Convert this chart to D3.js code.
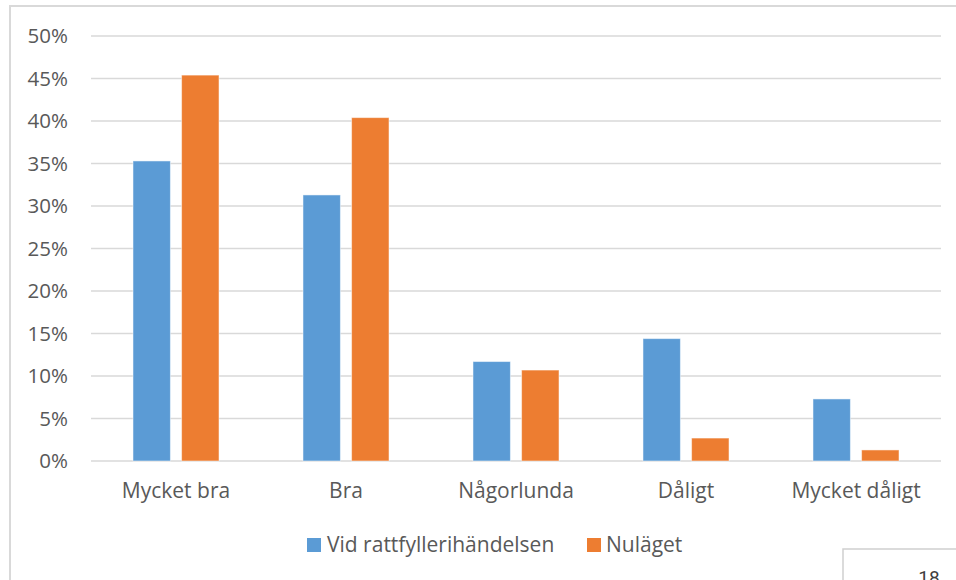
<!DOCTYPE html>
<html><head><meta charset="utf-8">
<script src="https://cdn.jsdelivr.net/npm/d3@7"></script>
<style>
html,body{margin:0;padding:0;background:#fff;}
svg{display:block;}
text{font-family:"Open Sans","Noto Sans",sans-serif;}
</style></head>
<body>
<svg id="chart" width="956" height="580"></svg>
<script>
const categories = ["Mycket bra","Bra","Någorlunda","Dåligt","Mycket dåligt"];
const seriesNames = ["Vid rattfyllerihändelsen","Nuläget"];
const seriesColors = ["#5B9BD5","#ED7D31"];
const vid = [35.3,31.3,11.7,14.4,7.3];
const nulaget = [45.4,40.4,10.7,2.7,1.3];
const yTicks = [0,5,10,15,20,25,30,35,40,45,50];
const pageNumber = "18";

(function(){
const svg = d3.select("#chart");
// chart frame
svg.append("rect").attr("x",10).attr("y",6).attr("width",1000).attr("height",700)
  .attr("fill","none").attr("stroke","#d9d9d9").attr("stroke-width",2);

const pLeft=91,pRight=941,pTop=36,pBottom=461;
const y = d3.scaleLinear().domain([0,50]).range([pBottom,pTop]);
const x0 = d3.scaleBand().domain(categories).range([pLeft,pRight]).paddingInner(0.494).paddingOuter(0.247);
const x1 = d3.scaleBand().domain(seriesNames).range([0,x0.bandwidth()]).paddingInner(0.23);

// gridlines
svg.append("g").selectAll("line").data(yTicks).join("line")
  .attr("x1",pLeft).attr("x2",pRight).attr("y1",d=>y(d)).attr("y2",d=>y(d))
  .attr("stroke","#d9d9d9").attr("stroke-width",1.5);

// y axis labels
const yAxis = d3.axisLeft(y).tickValues(yTicks).tickFormat(d=>d+"%").tickSize(0).tickPadding(0);
const ga = svg.append("g").attr("transform",`translate(68,0)`).call(yAxis);
ga.select(".domain").remove();
ga.selectAll("text").attr("fill","#595959").style("font-size","20.5px").style("font-family","'Open Sans',sans-serif");

// bars
const data = categories.map((c,i)=>({c, vals:[vid[i],nulaget[i]]}));
const g = svg.append("g");
data.forEach(d=>{
  d.vals.forEach((v,j)=>{
    g.append("rect")
      .attr("x",x0(d.c)+x1(seriesNames[j]))
      .attr("y",y(v))
      .attr("width",x1.bandwidth())
      .attr("height",y(0)-y(v))
      .attr("fill",seriesColors[j])
      .attr("stroke","#fff").attr("stroke-opacity",0.5).attr("stroke-width",1);
  });
});

// x axis labels
const xAxis = d3.axisBottom(x0).tickSize(0).tickPadding(0);
const gx = svg.append("g").attr("transform",`translate(0,483)`).call(xAxis);
gx.select(".domain").remove();
gx.selectAll("text").attr("fill","#595959").style("font-size","21px").style("font-family","'Open Sans',sans-serif");

// legend
const legendItems = [{x:307,tx:327},{x:587,tx:606}];
seriesNames.forEach((s,i)=>{
  svg.append("rect").attr("x",legendItems[i].x).attr("y",538).attr("width",14).attr("height",14).attr("fill",seriesColors[i]);
  svg.append("text").attr("x",legendItems[i].tx).attr("y",552).text(s)
    .attr("fill","#595959").style("font-size","21px");
});

// page number box
svg.append("rect").attr("x",843).attr("y",549).attr("width",200).attr("height",100)
  .attr("fill","#fff").attr("stroke","#cfcfcf").attr("stroke-width",1.5);
svg.append("text").attr("x",929).attr("y",584).attr("text-anchor","middle").text(pageNumber)
  .attr("fill","#404040").style("font-size","19px").style("font-family","Roboto,sans-serif");
})();
</script>
</body></html>
